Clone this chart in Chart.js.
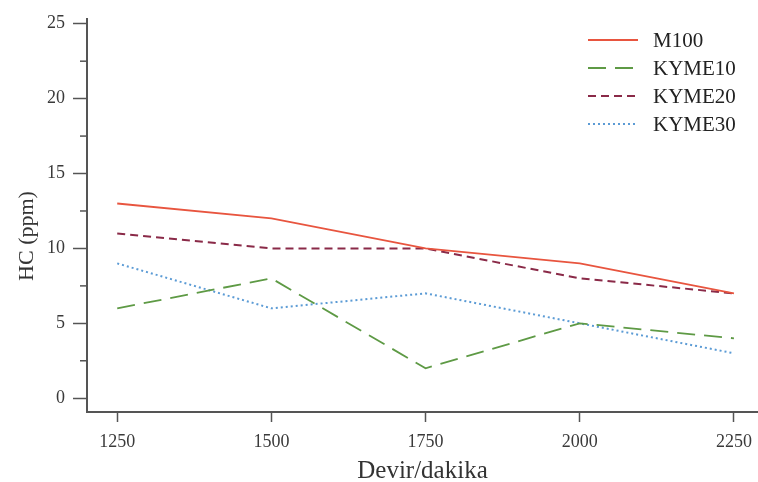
<!DOCTYPE html>
<html>
<head>
<meta charset="utf-8">
<script src="https://cdn.jsdelivr.net/npm/chart.js@4/dist/chart.umd.min.js"></script>
<style>
  html, body { margin: 0; padding: 0; background: #fff; }
  #wrap { width: 758px; height: 482px; }
</style>
</head>
<body>
<div id="wrap"><canvas id="hcChart"></canvas></div>
<script>
// Engine speed (rpm) and HC emissions (ppm) per fuel blend
const rpm = [1250, 1500, 1750, 2000, 2250];
const m100 = [13, 12, 10, 9, 7];
const kyme10 = [6, 8, 2, 5, 4];
const kyme20 = [11, 10, 10, 8, 7];
const kyme30 = [9, 6, 7, 5, 3];

// Tick values
const xTicks = [1250, 1500, 1750, 2000, 2250];
const yTicks = [0, 5, 10, 15, 20, 25];
const yMinorTicks = [2.5, 7.5, 12.5, 17.5, 22.5];

const yTitle = "HC (ppm)";

const serif = "'Liberation Serif', 'DejaVu Serif', serif";
const axisColor = "#555";

function points(values) {
  return rpm.map((r, i) => ({ x: r, y: values[i] }));
}

// Short ticks between the labelled ones on the y axis
const minorTickPlugin = {
  id: "minorTicks",
  afterDraw(chart) {
    const ctx = chart.ctx;
    const y = chart.scales.y;
    ctx.save();
    ctx.strokeStyle = axisColor;
    ctx.lineWidth = 1.5;
    yMinorTicks.forEach((v) => {
      const py = y.getPixelForValue(v);
      ctx.beginPath();
      ctx.moveTo(y.right - 7, py);
      ctx.lineTo(y.right, py);
      ctx.stroke();
    });
    ctx.restore();
  },
};

// Rotated y axis title, sitting a bit below the axis middle
const yTitlePlugin = {
  id: "yTitle",
  afterDraw(chart) {
    const ctx = chart.ctx;
    ctx.save();
    ctx.translate(27, 236);
    ctx.rotate(-Math.PI / 2);
    ctx.font = "22px " + serif;
    ctx.fillStyle = "#333";
    ctx.textAlign = "center";
    ctx.textBaseline = "middle";
    ctx.fillText(yTitle, 0, 0);
    ctx.restore();
  },
};

// Stacked legend in the top right corner
const boxLegendPlugin = {
  id: "boxLegend",
  afterDatasetsDraw(chart) {
    const ctx = chart.ctx;
    const x0 = 588, x1 = 638, textX = 653, top = 40, step = 28;
    ctx.save();
    ctx.font = "21px " + serif;
    ctx.textBaseline = "middle";
    chart.data.datasets.forEach((ds, i) => {
      const y = top + i * step;
      ctx.strokeStyle = ds.borderColor;
      ctx.lineWidth = ds.borderWidth;
      ctx.setLineDash(ds.borderDash || []);
      ctx.beginPath();
      ctx.moveTo(x0, y);
      ctx.lineTo(x1, y);
      ctx.stroke();
      ctx.setLineDash([]);
      ctx.fillStyle = "#222";
      ctx.fillText(ds.label, textX, y + 1);
    });
    ctx.restore();
  },
};

new Chart(document.getElementById("hcChart"), {
  type: "line",
  data: {
    datasets: [
      {
        label: "M100",
        data: points(m100),
        borderColor: "#e8553f",
        borderWidth: 1.8,
      },
      {
        label: "KYME10",
        data: points(kyme10),
        borderColor: "#5e9a45",
        borderWidth: 1.8,
        borderDash: [18, 9],
      },
      {
        label: "KYME20",
        data: points(kyme20),
        borderColor: "#8a2a48",
        borderWidth: 2,
        borderDash: [8, 5],
      },
      {
        label: "KYME30",
        data: points(kyme30),
        borderColor: "#5b9bd5",
        borderWidth: 2,
        borderDash: [2, 3],
      },
    ],
  },
  options: {
    responsive: true,
    maintainAspectRatio: false,
    animation: false,
    layout: { padding: { top: 14, right: 0, left: 0, bottom: 0 } },
    elements: {
      point: { radius: 0, hoverRadius: 0 },
      line: { tension: 0, fill: false },
    },
    plugins: {
      legend: { display: false },
      tooltip: { enabled: false },
    },
    scales: {
      x: {
        type: "linear",
        min: 1201,
        max: 2289,
        afterBuildTicks: (scale) => {
          scale.ticks = xTicks.map((v) => ({ value: v }));
        },
        afterFit: (scale) => {
          scale.height = 70;
          // axis runs right up to the canvas edge
          scale.paddingRight = 0;
          scale.paddingLeft = 0;
        },
        grid: {
          drawOnChartArea: false,
          drawTicks: true,
          tickLength: 10,
          tickWidth: 1.5,
          tickColor: axisColor,
        },
        border: { color: axisColor, width: 2 },
        ticks: {
          padding: 9,
          color: "#3a3a3a",
          font: { family: serif, size: 18 },
          maxRotation: 0,
          callback: (v) => String(v),
        },
        title: {
          display: true,
          text: "Devir/dakika",
          color: "#333",
          font: { family: serif, size: 25, lineHeight: 0.85 },
          padding: { top: 0, bottom: 0 },
        },
      },
      y: {
        min: -0.92,
        max: 25.33,
        afterBuildTicks: (scale) => {
          scale.ticks = yTicks.map((v) => ({ value: v }));
        },
        afterFit: (scale) => {
          scale.width = 87;
        },
        grid: {
          drawOnChartArea: false,
          drawTicks: true,
          tickLength: 14,
          tickWidth: 1.5,
          tickColor: axisColor,
        },
        border: { color: axisColor, width: 2 },
        ticks: {
          padding: 8,
          color: "#3a3a3a",
          font: { family: serif, size: 18 },
          callback: (v) => String(v),
        },
      },
    },
  },
  plugins: [minorTickPlugin, yTitlePlugin, boxLegendPlugin],
});
</script>
</body>
</html>
